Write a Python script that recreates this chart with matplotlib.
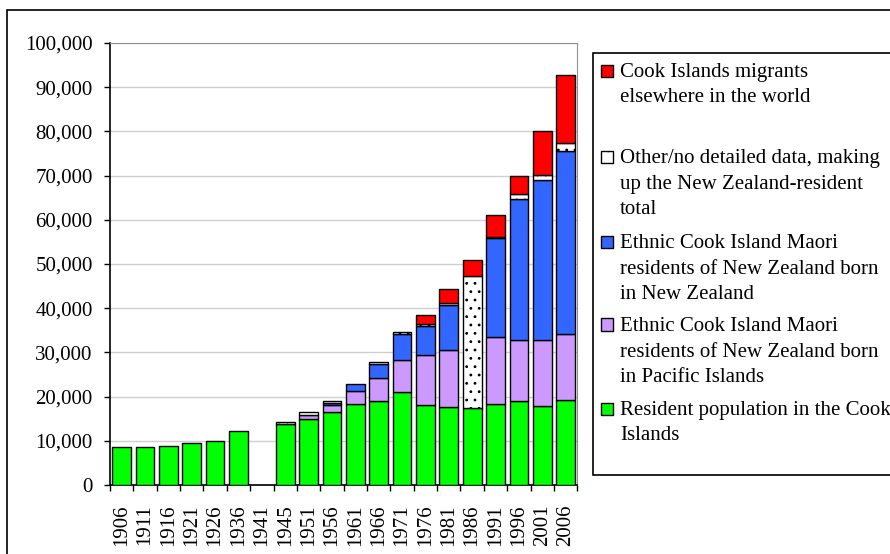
import matplotlib.pyplot as plt
from matplotlib.patches import Rectangle
from matplotlib.ticker import FuncFormatter, FixedLocator
import numpy as np

# ==============================================================================
# Data
# ==============================================================================
years = ['1906', '1911', '1916', '1921', '1926', '1936', '1941', '1945', '1951', '1956',
         '1961', '1966', '1971', '1976', '1981', '1986', '1991', '1996', '2001', '2006']

resident_cook = [8500, 8500, 8900, 9500, 9900, 12300, 0, 13900, 14900, 16600,
                 18300, 18900, 21000, 18000, 17700, 17400, 18300, 18900, 17900, 19300]
nz_born_pacific = [0, 0, 0, 0, 0, 0, 0, 0, 900, 1400,
                   2900, 5200, 7200, 11300, 12900, 0, 15100, 13800, 15000, 14800]
nz_born_nz = [0, 0, 0, 0, 0, 0, 0, 0, 0, 600,
              1600, 3300, 6000, 6600, 10200, 0, 22500, 32000, 36100, 41500]
other_nz = [0, 0, 0, 0, 0, 0, 0, 400, 800, 500,
            0, 500, 500, 600, 400, 29900, 300, 1100, 1200, 1700]
elsewhere = [0, 0, 0, 0, 0, 0, 0, 0, 0, 0,
             0, 0, 0, 2000, 3100, 3500, 4900, 4100, 9900, 15400]

labels = [
    "Cook Islands migrants\nelsewhere in the world",
    "Other/no detailed data, making\nup the New Zealand-resident\ntotal",
    "Ethnic Cook Island Maori\nresidents of New Zealand born\nin New Zealand",
    "Ethnic Cook Island Maori\nresidents of New Zealand born\nin Pacific Islands",
    "Resident population in the Cook\nIslands",
]

GREEN = '#00FF00'
PURPLE = '#CC99FF'
BLUE = '#3366FF'
RED = '#FF0000'
WHITE = '#FFFFFF'

W, H = 890, 554
FS = 15
LINE_PX = 25.5
plt.rcParams['font.family'] = ['Liberation Serif', 'DejaVu Serif']
plt.rcParams['hatch.linewidth'] = 0.8


def fx(px):
    return px / W


def fy(py):
    # pixel rows are counted from the top
    return 1 - py / H


fig = plt.figure(figsize=(8.9, 5.54), dpi=100)
ax = fig.add_axes([fx(110), fy(485), fx(577.3) - fx(110), fy(43) - fy(485)])

x = np.arange(len(years))
bw = 0.8
bottom = np.zeros(len(years))
series = [
    (resident_cook, GREEN, None),
    (nz_born_pacific, PURPLE, None),
    (nz_born_nz, BLUE, None),
    (other_nz, WHITE, '..'),
    (elsewhere, RED, None),
]
for vals, col, hatch in series:
    vals = np.array(vals, dtype=float)
    mask = vals > 0
    ax.bar(x[mask], vals[mask], bw, bottom=bottom[mask], color=col,
           edgecolor='black', linewidth=1.0, hatch=hatch, zorder=3)
    bottom += vals

# axes styling
ax.set_xlim(-0.5, len(years) - 0.5)
ax.set_ylim(0, 100000)
ax.set_yticks(np.arange(0, 100001, 10000))
ax.yaxis.set_major_formatter(FuncFormatter(lambda v, p: f"{int(v):,}"))
ax.grid(axis='y', color='#cfcfcf', linewidth=1.0, zorder=0)

ax.xaxis.set_major_locator(FixedLocator(np.arange(-0.5, len(years), 1.0)))
ax.xaxis.set_major_formatter(FuncFormatter(lambda v, p: ''))
ax.xaxis.set_minor_locator(FixedLocator(x))
ax.set_xticklabels(years, minor=True, rotation=90)
ax.tick_params(axis='x', which='minor', length=0, pad=14, labelsize=FS)
ax.tick_params(axis='x', which='major', direction='out', length=4.5, width=1.0)
ax.tick_params(axis='y', direction='out', length=4.5, width=1.0, pad=8, labelsize=FS)

ax.spines['left'].set_color('black')
ax.spines['bottom'].set_color('black')
ax.spines['left'].set_linewidth(1.2)
ax.spines['bottom'].set_linewidth(1.2)
ax.spines['top'].set_color('#909090')
ax.spines['right'].set_color('#909090')

# outer chart frame
fig.patches.append(Rectangle((fx(7), -0.1), 1.2, fy(10) + 0.1, transform=fig.transFigure,
                             fill=False, edgecolor='black', linewidth=1.2))

# legend box drawn by hand so entries line up like the original
fig.patches.append(Rectangle((fx(593), fy(475)), 1.0, fy(53) - fy(475), transform=fig.transFigure,
                             facecolor='white', edgecolor='black', linewidth=1.2))
legend_cols = [RED, WHITE, BLUE, PURPLE, GREEN]
legend_hatch = [None, '.', None, None, None]
baselines = [77, 163, 248, 331, 415]
for lab, col, hatch, base in zip(labels, legend_cols, legend_hatch, baselines):
    fig.patches.append(Rectangle((fx(601), fy(base - 0.5)), fx(12), fy(base - 12.5) - fy(base - 0.5),
                                 transform=fig.transFigure, facecolor=col, edgecolor='black',
                                 linewidth=1.0, hatch=hatch))
    # matplotlib puts the last line on the baseline, so shift by the extra lines
    n_extra = lab.count('\n')
    fig.text(fx(620), fy(base + n_extra * LINE_PX), lab, fontsize=FS, va='baseline',
             ha='left', linespacing=1.45)

fig.savefig('out.png', dpi=100)
